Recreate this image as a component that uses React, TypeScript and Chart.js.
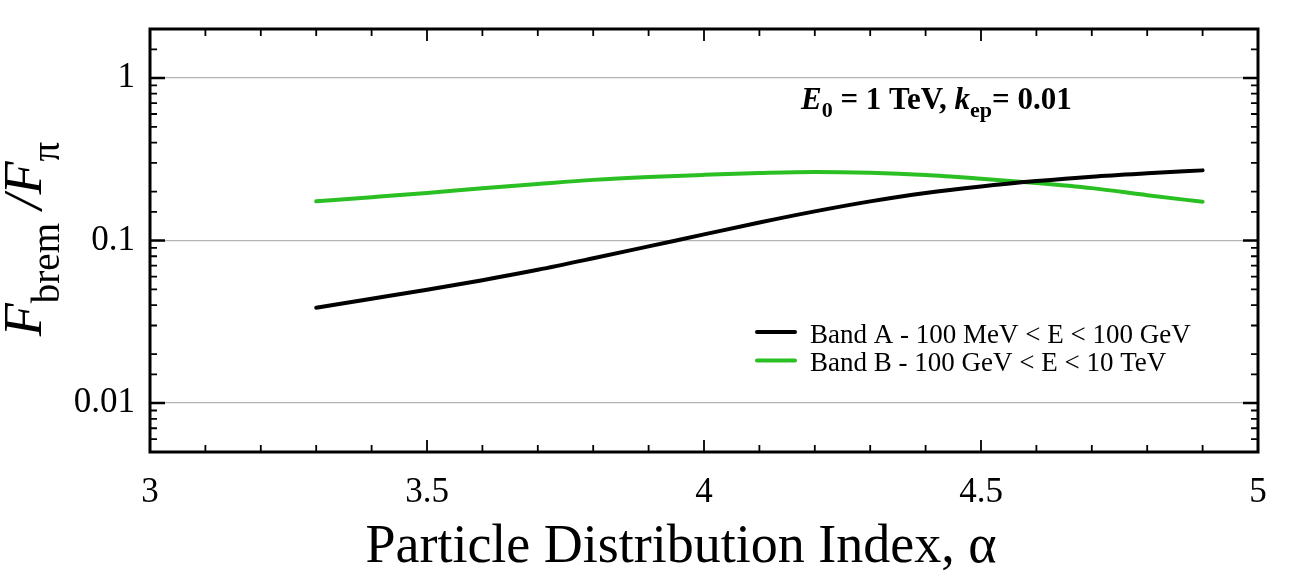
import React, { useEffect, useRef } from "react";
import Chart from "chart.js/auto";

// particle distribution index (x) and flux ratio for the two bands
const alpha = [3.3, 3.4, 3.5, 3.6, 3.7, 3.8, 3.9, 4.0, 4.1, 4.2, 4.3, 4.4, 4.5, 4.6, 4.7, 4.8, 4.9];
const bandA = [0.0386, 0.0438, 0.0498, 0.057, 0.066, 0.0777, 0.092, 0.109, 0.129, 0.151, 0.174, 0.196, 0.215, 0.232, 0.247, 0.259, 0.27];
const bandB = [0.1743, 0.1848, 0.1963, 0.2096, 0.2228, 0.236, 0.2459, 0.2535, 0.26, 0.264, 0.261, 0.253, 0.24, 0.226, 0.21, 0.19, 0.173];

const seriesLabels = ["Band A - 100 MeV < E < 100 GeV", "Band B - 100 GeV < E < 10 TeV"];
const seriesColors = ["#000000", "#2abf22"];

const xMajorTicks = [3, 3.5, 4, 4.5, 5];
const yDecadeTicks = [1, 0.1, 0.01];

const xTitle = "Particle Distribution Index, α";

const SERIF = "'Liberation Serif', 'Times New Roman', serif";

const isDecade = (v: number) => Math.abs(Math.log10(v) - Math.round(Math.log10(v))) < 1e-6;
const isXMajor = (v: number) => xMajorTicks.some((m) => Math.abs(m - v) < 1e-6);

// draws a run of text pieces (with sub-scripts) starting at x, baseline y
type Piece = { text: string; font: string; dy?: number };
const drawPieces = (ctx: CanvasRenderingContext2D, pieces: Piece[], x: number, y: number) => {
  let cx = x;
  for (const p of pieces) {
    ctx.font = p.font;
    ctx.fillText(p.text, cx, y + (p.dy || 0));
    cx += ctx.measureText(p.text).width;
  }
};
const piecesWidth = (ctx: CanvasRenderingContext2D, pieces: Piece[]) => {
  let w = 0;
  for (const p of pieces) {
    ctx.font = p.font;
    w += ctx.measureText(p.text).width;
  }
  return w;
};

const framePlugin = {
  id: "frameTicks",
  afterDatasetsDraw(chart: any) {
    const { ctx, chartArea } = chart;
    const { left, right, top, bottom } = chartArea;
    const xs = chart.scales.x;
    const ys = chart.scales.y;
    ctx.save();
    ctx.strokeStyle = "#000";

    // inward tick marks on all four sides
    ctx.lineWidth = 1.8;
    xs.ticks.forEach((t: any) => {
      const v = Math.round(t.value * 10) / 10;
      const px = xs.getPixelForValue(v);
      const len = isXMajor(v) ? 12 : 7;
      ctx.beginPath();
      ctx.moveTo(px, bottom);
      ctx.lineTo(px, bottom - len);
      ctx.moveTo(px, top);
      ctx.lineTo(px, top + len);
      ctx.stroke();
    });
    ys.ticks.forEach((t: any) => {
      const py = ys.getPixelForValue(t.value);
      const major = isDecade(t.value);
      const len = major ? 15 : 7;
      ctx.lineWidth = major ? 2.6 : 1.8;
      ctx.beginPath();
      ctx.moveTo(left, py);
      ctx.lineTo(left + len, py);
      ctx.moveTo(right, py);
      ctx.lineTo(right - len, py);
      ctx.stroke();
    });

    // frame
    ctx.lineWidth = 3;
    ctx.strokeRect(left, top, right - left, bottom - top);

    ctx.fillStyle = "#000";
    ctx.textBaseline = "alphabetic";

    // annotation
    drawPieces(
      ctx,
      [
        { text: "E", font: `italic bold 31px ${SERIF}` },
        { text: "0", font: `bold 22px ${SERIF}`, dy: 8 },
        { text: " = 1 TeV, ", font: `bold 31px ${SERIF}` },
        { text: "k", font: `italic bold 31px ${SERIF}` },
        { text: "ep", font: `bold 22px ${SERIF}`, dy: 8 },
        { text: "= 0.01", font: `bold 31px ${SERIF}` },
      ],
      801,
      109
    );

    // legend inside the plot
    chart.data.datasets.forEach((ds: any, i: number) => {
      const ly = 332 + i * 28.5;
      ctx.strokeStyle = ds.borderColor;
      ctx.lineWidth = 4;
      ctx.lineCap = "round";
      ctx.beginPath();
      ctx.moveTo(757, ly);
      ctx.lineTo(795, ly);
      ctx.stroke();
      ctx.font = `27px ${SERIF}`;
      ctx.fillText(ds.label, 810, ly + 10.5);
    });

    // x axis title
    ctx.font = `54px ${SERIF}`;
    ctx.textAlign = "center";
    ctx.fillText(xTitle, 681, 562);
    ctx.textAlign = "left";

    // y axis title with subscripts, rotated
    const yPieces: Piece[] = [
      { text: "F", font: `italic 54px ${SERIF}` },
      { text: "brem", font: `39px ${SERIF}`, dy: 18 },
      { text: " /", font: `italic 54px ${SERIF}` },
      { text: "F", font: `italic 54px ${SERIF}` },
      { text: "π", font: `39px ${SERIF}`, dy: 18 },
    ];
    const w = piecesWidth(ctx, yPieces);
    ctx.translate(41, 239);
    ctx.rotate(-Math.PI / 2);
    drawPieces(ctx, yPieces, -w / 2, 0);
    ctx.restore();
  },
};

export default function App() {
  const canvasRef = useRef<HTMLCanvasElement | null>(null);
  const chartRef = useRef<Chart | null>(null);

  useEffect(() => {
    if (!canvasRef.current) return;
    if (chartRef.current) chartRef.current.destroy();

    const series = [bandA, bandB];
    chartRef.current = new Chart(canvasRef.current, {
      type: "line",
      data: {
        datasets: series.map((vals, i) => ({
          label: seriesLabels[i],
          data: alpha.map((a, j) => ({ x: a, y: vals[j] })),
          borderColor: seriesColors[i],
          backgroundColor: seriesColors[i],
          borderWidth: 4,
          borderCapStyle: "round" as const,
          pointRadius: 0,
          cubicInterpolationMode: "monotone" as const,
          fill: false,
        })),
      },
      options: {
        animation: false,
        responsive: true,
        maintainAspectRatio: false,
        layout: { padding: { top: 29, right: 39, left: 0, bottom: 0 } },
        plugins: {
          legend: { display: false },
          tooltip: { enabled: false },
        },
        scales: {
          x: {
            type: "linear",
            min: 3,
            max: 5,
            grid: { display: false },
            border: { display: false },
            ticks: {
              stepSize: 0.1,
              autoSkip: false,
              maxRotation: 0,
              padding: 12,
              color: "#000",
              font: { family: SERIF, size: 35 },
              callback: (v: any) => {
                const r = Math.round(Number(v) * 10) / 10;
                return isXMajor(r) ? String(r) : "";
              },
            },
            afterFit: (scale: any) => {
              scale.height = 133;
              scale.paddingLeft = 0;
              scale.paddingRight = 0;
            },
          },
          y: {
            type: "logarithmic",
            min: 0.005,
            max: 2,
            grid: {
              drawTicks: false,
              lineWidth: 1.2,
              color: (c: any) => (c.tick && isDecade(c.tick.value) ? "#b4b4b4" : "rgba(0,0,0,0)"),
            },
            border: { display: false },
            ticks: {
              autoSkip: false,
              padding: 15,
              color: "#000",
              font: { family: SERIF, size: 35 },
              callback: (v: any) => {
                const n = Number(v);
                const hit = yDecadeTicks.find((d) => Math.abs(d - n) / d < 1e-6);
                return hit !== undefined ? String(hit) : "";
              },
            },
            afterFit: (scale: any) => {
              scale.width = 150;
              scale.paddingTop = 0;
              scale.paddingBottom = 0;
            },
          },
        },
      },
      plugins: [framePlugin],
    });

    return () => {
      if (chartRef.current) {
        chartRef.current.destroy();
        chartRef.current = null;
      }
    };
  }, []);

  return (
    <div style={{ position: "absolute", left: 0, top: 0, width: "1297px", height: "585px", background: "#fff" }}>
      <canvas ref={canvasRef} />
    </div>
  );
}
